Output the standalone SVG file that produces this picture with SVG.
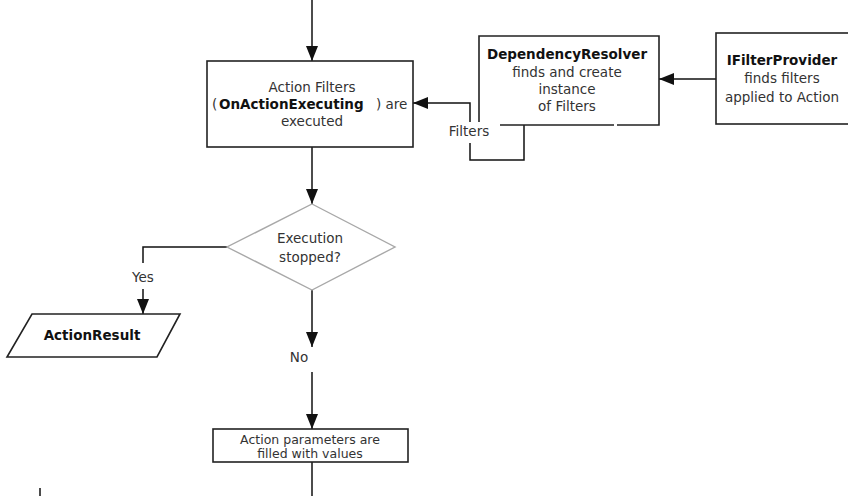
<svg xmlns="http://www.w3.org/2000/svg" width="848" height="496" viewBox="0 0 848 496">
  <style>
    text { font-family: "DejaVu Sans", "Liberation Sans", sans-serif; font-size: 13.5px; fill: #333; }
    .b { font-weight: bold; fill: #111; }
    .c { text-anchor: middle; }
    .s { font-size: 12.5px; }
    .box { fill: #fff; stroke: #222; stroke-width: 1.6; }
    .dia { fill: #fff; stroke: #a8a8a8; stroke-width: 1.4; }
    .wire { fill: none; stroke: #111; stroke-width: 1.5; }
  </style>
  <defs>
    <marker id="arrow" markerUnits="userSpaceOnUse" markerWidth="16" markerHeight="12" refX="15" refY="6" orient="auto">
      <path d="M0,0 L15,6 L0,12 Z" fill="#111"/>
    </marker>
  </defs>

  <!-- connectors -->
  <g id="connectors">
    <path class="wire" d="M312,0 V61" marker-end="url(#arrow)"/>
    <path class="wire" d="M312,147 V204" marker-end="url(#arrow)"/>
    <!-- Filters loop from DependencyResolver into the action filter box -->
    <path class="wire" d="M470,122 V103 H413" marker-end="url(#arrow)"/>
    <path class="wire" d="M470,143 V160 H524 V125"/>
    <!-- IFilterProvider to DependencyResolver -->
    <path class="wire" d="M716,79 H659" marker-end="url(#arrow)"/>
    <!-- Yes branch -->
    <path class="wire" d="M227,247 H143 V263"/>
    <path class="wire" d="M143,289 V314" marker-end="url(#arrow)"/>
    <!-- No branch -->
    <path class="wire" d="M312,290 V347" marker-end="url(#arrow)"/>
    <path class="wire" d="M312,372 V429" marker-end="url(#arrow)"/>
    <path class="wire" d="M312,462 V496"/>
    <path class="wire" d="M40,488 V496"/>
  </g>

  <g id="action-filters">
    <rect class="box" x="207" y="61" width="206" height="86"/>
    <text class="c" x="312" y="92">Action Filters</text>
    <text x="212" y="109">(<tspan class="b" x="219">OnActionExecuting</tspan><tspan x="376">) are</tspan></text>
    <text class="c" x="312" y="126">executed</text>
  </g>

  <g id="dependency-resolver">
    <path class="box" d="M479,122 V36 H659 V125 H617 M614,125 H500"/>
    <text class="b c" x="567" y="59">DependencyResolver</text>
    <text class="c" x="567" y="77">finds and create</text>
    <text class="c" x="567" y="94">instance</text>
    <text class="c" x="567" y="111">of Filters</text>
  </g>

  <g id="filters-label">
    <text class="c" x="469" y="136">Filters</text>
  </g>

  <g id="filter-provider">
    <rect class="box" x="716" y="33" width="140" height="91"/>
    <text class="b c" x="782" y="65">IFilterProvider</text>
    <text class="c" x="782" y="83">finds filters</text>
    <text class="c" x="782" y="102">applied to Action</text>
  </g>

  <g id="execution-stopped">
    <polygon class="dia" points="312,204 395,247 312,290 227,247"/>
    <text class="c" x="310" y="243">Execution</text>
    <text class="c" x="310" y="262">stopped?</text>
  </g>

  <g id="yes-label">
    <text class="c" x="143" y="282">Yes</text>
  </g>

  <g id="action-result">
    <polygon class="box" points="32,314 180,314 157,357 7,357"/>
    <text class="b c" x="92" y="340">ActionResult</text>
  </g>

  <g id="no-label">
    <text class="c" x="299" y="362">No</text>
  </g>

  <g id="action-parameters">
    <rect class="box" x="213" y="429" width="195" height="33"/>
    <text class="c s" x="310" y="444">Action parameters are</text>
    <text class="c s" x="310" y="458">filled with values</text>
  </g>
</svg>
